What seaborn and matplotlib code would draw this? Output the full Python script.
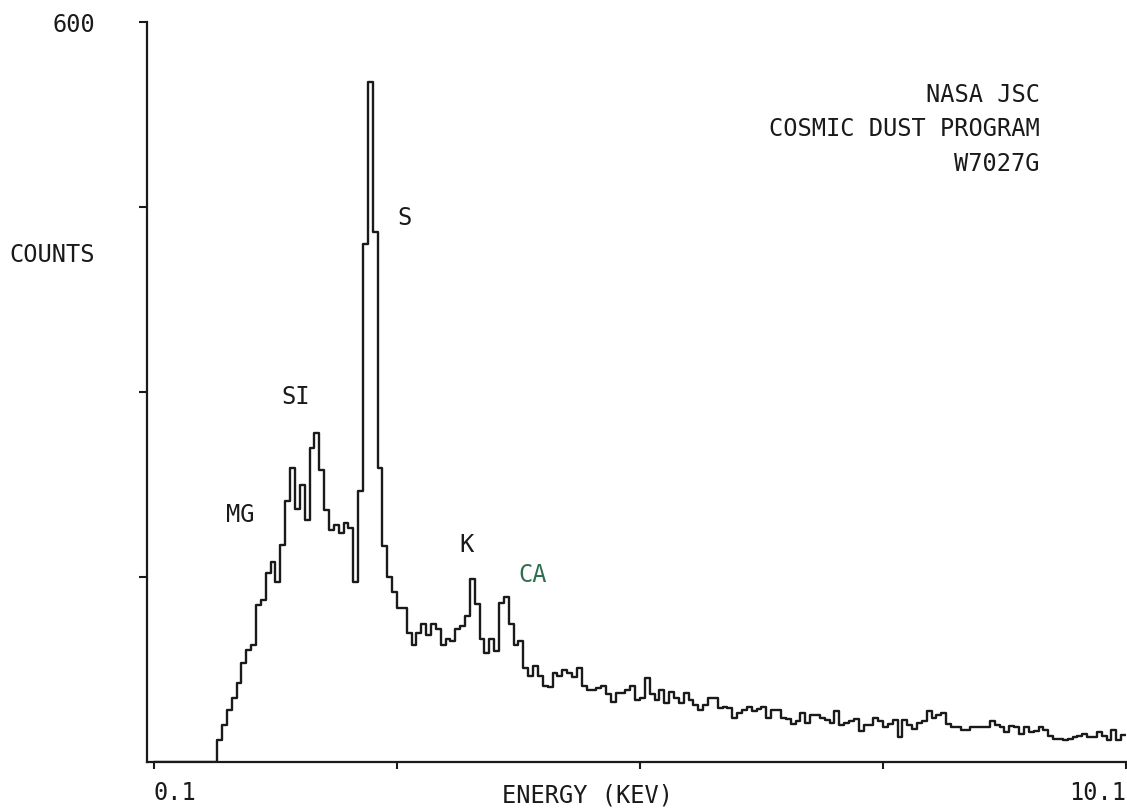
import matplotlib.pyplot as plt
import numpy as np
import pandas as pd
import seaborn as sns

# spectrum: 200 channels of 50 eV starting at 0.1 keV
energy_start = 0.1
channel_width = 0.05
counts = [
    0, 0, 0, 0, 0, 0, 0, 0, 0, 0,
    0, 0, 0, 18, 30, 42, 52, 64, 80, 91,
    95, 127, 131, 153, 162, 146, 176, 212, 238, 205,
    225, 196, 255, 267, 237, 204, 188, 192, 186, 194,
    190, 146, 220, 420, 551, 430, 238, 175, 150, 138,
    125, 125, 105, 95, 105, 112, 103, 112, 108, 95,
    100, 98, 108, 110, 118, 148, 128, 100, 88, 100,
    90, 129, 134, 112, 95, 98, 76, 70, 78, 70,
    62, 61, 72, 70, 75, 72, 69, 76, 62, 58,
    58, 60, 62, 55, 49, 56, 56, 58, 62, 50,
    52, 68, 55, 50, 58, 48, 57, 52, 48, 56,
    50, 46, 42, 46, 52, 52, 44, 45, 44, 36,
    40, 42, 45, 41, 43, 45, 36, 42, 42, 36,
    35, 31, 33, 40, 32, 38, 38, 36, 34, 32,
    41, 30, 32, 33, 35, 25, 30, 30, 36, 33,
    28, 31, 34, 20, 34, 30, 27, 32, 33, 41,
    36, 38, 40, 31, 28, 28, 26, 26, 28, 28,
    28, 28, 33, 30, 28, 24, 29, 28, 23, 28,
    24, 25, 28, 26, 21, 19, 19, 18, 19, 20,
    21, 23, 20, 20, 24, 21, 18, 26, 18, 22,
]

peak_names = ["MG", "SI", "S", "K", "CA"]
peak_energy = [0.985, 1.56, 2.68, 3.32, 4.0]
peak_label_y = [200, 296, 441, 176, 152]
peak_colors = ["#1a1a1a", "#1a1a1a", "#1a1a1a", "#1a1a1a", "#2f6f4f"]

x_ticks = [0.1, 2.6, 5.1, 7.6, 10.1]
x_ticklabels = ["0.1", "", "", "", "10.1"]
y_ticks = [150, 300, 450, 600]
y_ticklabels = ["", "", "", "600"]

sns.set_style("ticks")
plt.rcParams["font.family"] = ["DejaVu Sans Mono", "DejaVu Sans"]

ink = "#1a1a1a"
fs = 17
fig = plt.figure(figsize=(11.27, 8.10), dpi=100)
ax = fig.add_axes([147 / 1127, 1 - 762 / 810, 979 / 1127, 740 / 810])

n = len(counts)
spec = pd.DataFrame({
    "energy": energy_start + channel_width * (np.arange(n) + 0.5),
    "counts": counts,
})
sns.histplot(data=spec, x="energy", weights="counts", binwidth=channel_width,
             binrange=(energy_start, energy_start + n * channel_width),
             element="step", fill=False, color=ink, linewidth=1.7, ax=ax)

# the plotter's frame starts a little left of 0.1 keV
ax.set_xlim(0.028, 10.1)
ax.set_ylim(0, 600)
sns.despine(ax=ax)
for side in ["left", "bottom"]:
    ax.spines[side].set_color(ink)
    ax.spines[side].set_linewidth(1.6)

ax.set_xticks(x_ticks)
ax.set_xticklabels(x_ticklabels, fontsize=fs, color=ink)
ax.get_xticklabels()[0].set_ha("left")
ax.get_xticklabels()[-1].set_ha("right")
ax.tick_params(axis="x", bottom=True, direction="out", length=5, width=1.5,
               color=ink, pad=9)

ax.set_yticks(y_ticks)
ax.set_yticklabels(y_ticklabels, fontsize=fs, color=ink)
ax.tick_params(axis="y", left=True, direction="out", length=6, width=1.5,
               color=ink, pad=31)

ax.set_xlabel("ENERGY (KEV)", fontsize=fs, color=ink)
ax.xaxis.set_label_coords((587 - 147) / 979, -33 / 740)
ax.xaxis.label.set_va("center")
ax.set_ylabel("COUNTS", fontsize=fs, color=ink, rotation=0, ha="center", va="center")
ax.yaxis.set_label_coords(-95 / 979, (762 - 255) / 740)

for name, e, y, c in zip(peak_names, peak_energy, peak_label_y, peak_colors):
    ax.text(e, y, name, fontsize=fs, color=c, ha="center", va="center")

ax.text((1040 - 147) / 979, 0.918, "NASA JSC\nCOSMIC DUST PROGRAM\nW7027G",
        transform=ax.transAxes, ha="right", va="top", ma="right",
        fontsize=fs, color=ink, linespacing=1.55)

fig.savefig("out.png", dpi=100, facecolor="white")
